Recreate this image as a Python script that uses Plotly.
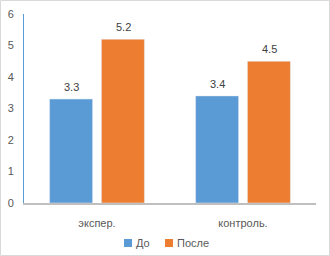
import plotly.graph_objects as go

categories = ["экспер.", "контроль."]
before_vals = [3.3, 3.4]
after_vals = [5.2, 4.5]
series_names = ["До", "После"]
y_ticks = [0, 1, 2, 3, 4, 5, 6]

font_family = "Liberation Sans, Arial, sans-serif"
text_color = "#595959"
colors = ["#5B9BD5", "#ED7D31"]

# plot-area geometry in pixels (for converting legend positions to paper coords)
L, R, T, B = 24, 14, 14, 53
W, H = 330 - L - R, 256 - T - B


def px(x):
    return (x - L) / W


def py(y):
    return (256 - B - y) / H


fig = go.Figure()
for name, vals, col in zip(series_names, [before_vals, after_vals], colors):
    fig.add_trace(go.Bar(x=categories, y=vals, name=name, marker_color=col,
                         showlegend=False))

annotations = []
for vals, shift in [(before_vals, -26), (after_vals, 26)]:
    for c, v in zip(categories, vals):
        annotations.append(dict(x=c, y=v, xref="x", yref="y", text=f"{v:.1f}",
                                showarrow=False, xshift=shift, yshift=12,
                                font=dict(size=11, color="#404040")))

shapes = [dict(type="rect", xref="paper", yref="paper",
               x0=px(0.5), x1=px(329.5), y0=py(255.5), y1=py(0.5),
               line=dict(color="#D9D9D9", width=1), fillcolor="rgba(0,0,0,0)")]

# legend entries
legend_x = [124, 165]
for name, col, lx in zip(series_names, colors, legend_x):
    shapes.append(dict(type="rect", xref="paper", yref="paper",
                       x0=px(lx), x1=px(lx + 8), y0=py(247), y1=py(239),
                       line=dict(width=0), fillcolor=col))
    annotations.append(dict(x=px(lx + 9.5), y=py(243), xref="paper", yref="paper",
                            text=name, showarrow=False, xanchor="left", yanchor="middle",
                            font=dict(size=11, color=text_color)))

fig.update_layout(
    width=330, height=256,
    margin=dict(l=L, r=R, t=T, b=B, autoexpand=False),
    paper_bgcolor="white", plot_bgcolor="white",
    barmode="group", bargap=0.29, bargroupgap=0.17,
    font=dict(family=font_family, size=11, color=text_color),
    showlegend=False,
    xaxis=dict(showline=True, linecolor="#BFBFBF", linewidth=2,
               ticks="outside", ticklen=9, tickcolor="rgba(0,0,0,0)",
               automargin=False,
               tickfont=dict(size=11, color=text_color)),
    yaxis=dict(range=[0, 6], tickvals=y_ticks, showgrid=False, zeroline=False,
               automargin=False,
               showline=True, linecolor="#5B9BD5", linewidth=1,
               ticks="outside", ticklen=7, tickcolor="rgba(0,0,0,0)",
               tickfont=dict(size=11, color=text_color)),
    annotations=annotations,
    shapes=shapes,
)

fig.write_html("out.html", config={"displayModeBar": False},
               post_script="document.body.style.margin='0';document.body.style.padding='0';")
